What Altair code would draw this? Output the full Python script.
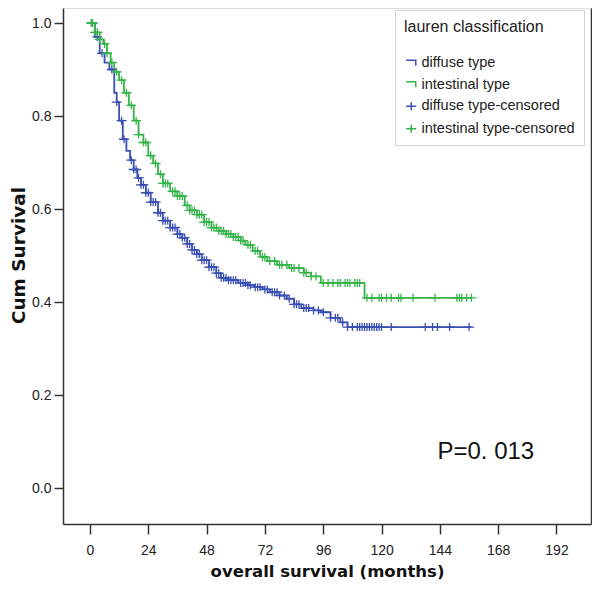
import altair as alt
import pandas as pd

# ---- data ----
diffuse_months = [0, 2, 4, 6, 8, 10, 11, 12, 13.5, 15, 16.5, 18, 19.5, 21, 23, 25, 28, 30, 33, 36, 38, 40, 42,
                  44, 46, 49, 52, 54, 57, 61, 65, 68, 71, 74, 78, 81, 84, 87, 92, 95, 99, 103, 106, 157]
diffuse_surv = [1.0, 0.97, 0.935, 0.915, 0.90, 0.85, 0.83, 0.79, 0.75, 0.725, 0.705, 0.685, 0.667, 0.652, 0.635,
                0.615, 0.592, 0.575, 0.560, 0.546, 0.538, 0.525, 0.512, 0.503, 0.49, 0.475, 0.462, 0.452, 0.447,
                0.441, 0.436, 0.432, 0.427, 0.421, 0.414, 0.407, 0.395, 0.387, 0.382, 0.378, 0.366, 0.356, 0.346,
                0.346]
intestinal_months = [0, 2, 4, 5.5, 7, 8.5, 10, 12, 14, 16, 18, 20, 22, 24, 26, 28, 30, 33, 36, 39, 41, 44, 47,
                     50, 53, 56, 59, 62, 64, 67, 70, 73, 77, 82, 88, 91, 95, 113, 157]
intestinal_surv = [1.0, 0.98, 0.965, 0.955, 0.935, 0.915, 0.895, 0.877, 0.85, 0.823, 0.79, 0.76, 0.743, 0.715,
                   0.698, 0.675, 0.655, 0.638, 0.628, 0.608, 0.597, 0.588, 0.572, 0.56, 0.553, 0.546, 0.54, 0.532,
                   0.523, 0.51, 0.497, 0.488, 0.48, 0.473, 0.463, 0.455, 0.441, 0.409, 0.409]
diffuse_censored = [1, 3, 5, 9, 11, 13, 14, 17, 18, 19, 20, 21, 22, 23, 24, 25, 26, 27, 28, 29, 30, 31, 32, 33,
                    34, 35, 36, 37, 38, 39, 40, 41, 42, 43, 44, 45, 46, 47, 48, 49, 50, 51, 52, 53, 54, 55, 56,
                    57, 58, 59, 60, 62, 63, 64, 65, 66, 68, 69, 70, 72, 73, 75, 76, 77, 78, 80, 82, 84, 85, 86,
                    88, 89, 90, 92, 94, 96, 99, 101, 102, 104, 106, 108, 110, 111, 112, 113, 114, 115, 116, 117,
                    118, 119, 120, 124, 138, 141, 143, 148, 156]
intestinal_censored = [0.5, 1, 2, 3, 4, 6, 7, 9, 11, 13, 15, 17, 19, 20, 22, 23, 25, 27, 29, 30, 31, 32, 34, 35,
                       36, 37, 38, 40, 41, 42, 43, 44, 45, 46, 47, 48, 49, 50, 51, 52, 53, 54, 55, 56, 57, 58, 59,
                       60, 61, 62, 63, 65, 66, 68, 69, 71, 72, 74, 76, 78, 79, 81, 83, 84, 86, 88, 89, 91, 93, 96,
                       98, 100, 102, 103, 105, 106, 107, 109, 110, 111, 114, 116, 119, 120, 122, 124, 127, 128,
                       133, 142, 151, 152, 153, 155, 157]

series_labels = ["diffuse type", "intestinal type", "diffuse type-censored", "intestinal type-censored"]
series_colors = ["#3A4FB2", "#36B34A", "#3A4FB2", "#36B34A"]
x_ticks = [0, 24, 48, 72, 96, 120, 144, 168, 192]
y_ticks = [0.0, 0.2, 0.4, 0.6, 0.8, 1.0]
p_text = ["P=0. 013"]
p_month = [143]
p_surv = [0.077]

STEP = "M-1,-0.6L0.9,-0.6L0.9,0.5"
PLUS = "M-1,0L1,0M0,-0.8L0,0.8"
FONT = "Liberation Sans"
TFONT = "DejaVu Sans"


def step_value(months, surv, t):
    v = surv[0]
    for m, s in zip(months, surv):
        if m <= t:
            v = s
    return v


curve_rows = []
for m, s in zip(diffuse_months, diffuse_surv):
    curve_rows.append({"month": m, "surv": s, "series": series_labels[0]})
for m, s in zip(intestinal_months, intestinal_surv):
    curve_rows.append({"month": m, "surv": s, "series": series_labels[1]})
curves = pd.DataFrame(curve_rows)

cens_rows = []
for t in diffuse_censored:
    cens_rows.append({"month": t, "surv": step_value(diffuse_months, diffuse_surv, t),
                      "series": series_labels[2]})
for t in intestinal_censored:
    cens_rows.append({"month": t, "surv": step_value(intestinal_months, intestinal_surv, t),
                      "series": series_labels[3]})
cens = pd.DataFrame(cens_rows)

ann = pd.DataFrame({"month": p_month, "surv": p_surv, "text": p_text})

x_scale = alt.Scale(domain=[-11.1, 206.2], nice=False, zero=False)
y_scale = alt.Scale(domain=[-0.0774, 1.0323], nice=False, zero=False)
color_scale = alt.Scale(domain=series_labels, range=series_colors)
shape_scale = alt.Scale(domain=series_labels, range=[STEP, STEP, PLUS, PLUS])

x_axis = alt.Axis(values=x_ticks, title="overall survival (months)", grid=False, tickSize=10,
                  labelPadding=9, titlePadding=6, labelFontSize=14, titleFontSize=16.5,
                  labelFont=FONT, titleFont=TFONT, titleFontWeight="bold", labelColor="#222",
                  titleColor="#111", domainColor="#333", domainWidth=1.5, tickColor="#333", tickWidth=1.5)
y_axis = alt.Axis(values=y_ticks, format=".1f", title="Cum Survival", grid=False, tickSize=9,
                  labelPadding=3, labelFontSize=14, titleFontSize=18.5, labelFont=FONT, titleFont=TFONT,
                  titleFontWeight="bold", labelColor="#222", titleColor="#111", domainColor="#333",
                  domainWidth=1.5, tickColor="#333", tickWidth=1.5, titleX=-45, titleY=247,
                  titleAngle=270, titleAlign="center", titleBaseline="middle")
y_axis_right = alt.Axis(orient="right", labels=False, ticks=False, title="", grid=False,
                        domainColor="#333", domainWidth=1.5)

legend_spec = alt.Legend(title="lauren classification", orient="none", legendX=332, legendY=2,
                         fillColor="white", strokeColor="#d4d4d4", padding=9,
                         titleFontSize=16, titleFontWeight="normal", titleFont=FONT,
                         titleColor="#222", titlePadding=21, labelFontSize=14.5,
                         labelFont=FONT, labelColor="#222", symbolSize=100,
                         symbolStrokeWidth=1.5, rowPadding=6.5, labelOffset=3, labelLimit=300)

lines = alt.Chart(curves).mark_line(interpolate="step-after", strokeWidth=1.8).encode(
    x=alt.X("month:Q", scale=x_scale, axis=x_axis),
    y=alt.Y("surv:Q", scale=y_scale, axis=y_axis),
    color=alt.Color("series:N", scale=color_scale, legend=legend_spec),
    detail="series:N",
)

points = alt.Chart(cens).mark_point(filled=False, size=100, strokeWidth=1.3, opacity=1).encode(
    x=alt.X("month:Q", scale=x_scale, axis=x_axis),
    y=alt.Y("surv:Q", scale=y_scale, axis=y_axis_right),
    color=alt.Color("series:N", scale=color_scale, legend=legend_spec),
    shape=alt.Shape("series:N", scale=shape_scale, legend=legend_spec),
)

text = alt.Chart(ann).mark_text(align="left", baseline="middle", fontSize=24, font=FONT,
                                color="#111").encode(
    x=alt.X("month:Q", scale=x_scale, axis=x_axis),
    y=alt.Y("surv:Q", scale=y_scale, axis=None),
    text="text:N",
)

chart = alt.layer(lines, points, text).resolve_axis(y="independent").properties(
    width=528, height=516,
    autosize=alt.AutoSizeParams(type="none"),
    padding={"left": 55, "top": 0, "right": 1, "bottom": 57},
).configure_view(fill="#EEEEEE", stroke="transparent").configure(background="white")

chart.save("out.html", embed_options={"renderer": "svg", "actions": False})
